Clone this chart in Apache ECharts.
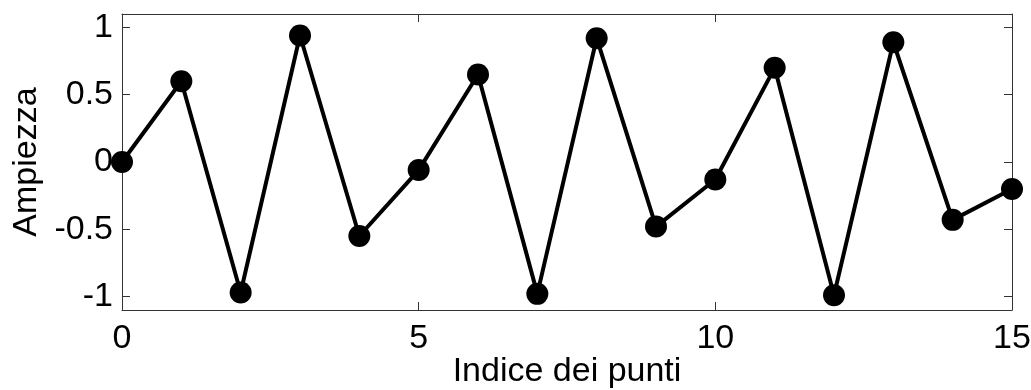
<!DOCTYPE html>
<html>
<head>
<meta charset="utf-8">
<script src="https://cdn.jsdelivr.net/npm/echarts@6/dist/echarts.min.js"></script>
<style>
html,body{margin:0;padding:0;background:#fff;}
#c{width:1031px;height:390px;}
</style>
</head>
<body>
<div id="c"></div>
<script>
const xIndex = [0,1,2,3,4,5,6,7,8,9,10,11,12,13,14,15];
const amplitude = [0, 0.60, -0.97, 0.94, -0.55, -0.06, 0.65, -0.98, 0.92, -0.48, -0.13, 0.70, -0.99, 0.89, -0.43, -0.20];
const xTicks = [0, 5, 10, 15];
const yTicks = [-1, -0.5, 0, 0.5, 1];
const xTitle = 'Indice dei punti';
const yTitle = 'Ampiezza';

const FONT = 'Liberation Sans, Arial, sans-serif';
const AX = '#333333';
const FS = 34;
const chart = echarts.init(document.getElementById('c'), null, {renderer:'canvas'});
function ticks(vals){ return {show:true, inside:true, length:8, lineStyle:{color:AX, width:1}, customValues: vals}; }
const line = {show:true, onZero:false, lineStyle:{color:AX, width:1}};
chart.setOption({
  animation:false,
  backgroundColor:'#fff',
  grid:{left:122, right:19, top:14, bottom:80, containLabel:false, outerBoundsMode:'none'},
  xAxis:[
    {type:'value', min:0, max:15, position:'bottom',
     axisLine:line, axisTick:ticks(xTicks), splitLine:{show:false},
     axisLabel:{customValues:xTicks, color:'#000', fontFamily:FONT, fontSize:FS, margin:12},
     name:xTitle, nameLocation:'middle', nameGap:45, nameMoveOverlap:false,
     nameTextStyle:{color:'#000', fontFamily:FONT, fontSize:FS}},
    {type:'value', min:0, max:15, position:'top',
     axisLine:line, axisTick:ticks(xTicks), splitLine:{show:false}, axisLabel:{show:false}}
  ],
  yAxis:[
    {type:'value', min:-1.1, max:1.1, position:'left',
     axisLine:line, axisTick:ticks(yTicks), splitLine:{show:false},
     axisLabel:{customValues:yTicks, color:'#000', fontFamily:FONT, fontSize:FS, margin:9},
     name:yTitle, nameLocation:'middle', nameGap:78, nameMoveOverlap:false,
     nameTextStyle:{color:'#000', fontFamily:FONT, fontSize:FS}},
    {type:'value', min:-1.1, max:1.1, position:'right',
     axisLine:line, axisTick:ticks(yTicks), splitLine:{show:false}, axisLabel:{show:false}}
  ],
  series:[{
    type:'line', clip:false,
    data: xIndex.map((x,i)=>[x, amplitude[i]]),
    symbol:'circle', symbolSize:22,
    lineStyle:{color:'#000', width:4},
    itemStyle:{color:'#000'}
  }]
});
</script>
</body>
</html>
